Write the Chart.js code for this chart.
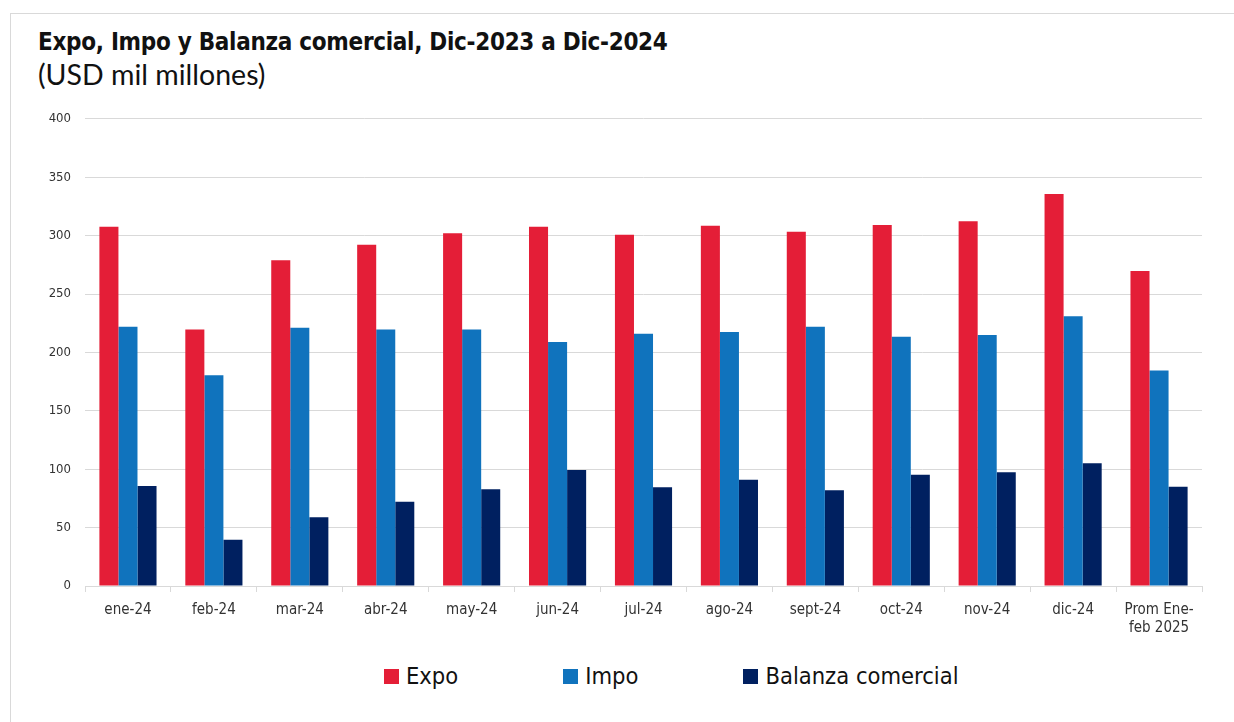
<!DOCTYPE html>
<html>
<head>
<meta charset="utf-8">
<script src="https://cdn.jsdelivr.net/npm/chart.js@4.4.1/dist/chart.umd.min.js"></script>
<style>
  html, body { margin: 0; padding: 0; background: #fff; overflow: hidden; }
  body { width: 1234px; height: 722px; position: relative; font-family: 'DejaVu Sans Condensed', sans-serif; }
  #frame { position: absolute; left: 10px; top: 13px; width: 1240px; height: 760px; border: 1px solid #d9d9d9; box-sizing: border-box; }
  #title { position: absolute; left: 38px; top: 28px; font-size: 24px; letter-spacing: -0.3px; font-weight: bold; color: #111; white-space: nowrap; }
  #subtitle { position: absolute; left: 38px; top: 57px; font-size: 28.5px; color: #111; white-space: nowrap; font-family: Lato, sans-serif; }
  #wrap { position: absolute; left: 0; top: 97px; width: 1234px; height: 563px; }
  #legend { position: absolute; left: 384px; top: 662px; display: flex; gap: 105px; font-size: 23.5px; color: #111; }
  #legend .item { display: flex; align-items: center; white-space: nowrap; }
  #legend .box { width: 15px; height: 15px; margin-right: 7px; }
</style>
</head>
<body>
<div id="frame"></div>
<div id="title">Expo, Impo y Balanza comercial, Dic-2023 a Dic-2024</div>
<div id="subtitle">(USD mil millones)</div>
<div id="wrap"><canvas id="chart"></canvas></div>
<div id="legend"></div>
<script>
// ===================== DATA =====================

const categories = ['ene-24', 'feb-24', 'mar-24', 'abr-24', 'may-24', 'jun-24', 'jul-24',
                    'ago-24', 'sept-24', 'oct-24', 'nov-24', 'dic-24', ['Prom Ene-', 'feb 2025']];
const expo    = [307.6, 219.7, 279.0, 292.2, 302.0, 307.6, 300.8, 308.5, 303.4, 309.0, 312.2, 335.6, 269.7];
const impo    = [222.0, 180.4, 221.0, 219.7, 219.5, 208.9, 216.0, 217.5, 222.0, 213.5, 214.9, 230.9, 184.6];
const balanza = [85.6, 39.7, 58.8, 72.2, 82.8, 99.3, 84.5, 91.0, 81.9, 95.3, 97.3, 105.0, 85.0];

const seriesNames  = ['Expo', 'Impo', 'Balanza comercial'];
const seriesColors = ['#e41e37', '#1073bd', '#002060'];

const FONT = "'DejaVu Sans Condensed', sans-serif";

// ===================== CHART =====================

const chart = new Chart(document.getElementById('chart'), {
    type: 'bar',
    data: {
        labels: categories,
        datasets: [expo, impo, balanza].map((values, i) => ({
            label: seriesNames[i],
            data: values,
            backgroundColor: seriesColors[i],
            borderWidth: 0,
            categoryPercentage: 0.665,
            barPercentage: 1.0
        }))
    },
    options: {
        responsive: true,
        maintainAspectRatio: false,
        animation: false,
        layout: { padding: { left: 0, right: 32, top: 10, bottom: 14 } },
        plugins: {
            legend: { display: false },
            tooltip: { enabled: false }
        },
        scales: {
            x: {
                grid: { offset: true, drawOnChartArea: false, color: '#d9d9d9', tickLength: 6 },
                border: { display: true, color: '#d9d9d9' },
                ticks: { color: '#333', font: { family: FONT, size: 15 }, padding: 9, maxRotation: 0, autoSkip: false }
            },
            y: {
                min: 0,
                max: 400,
                ticks: { stepSize: 50, color: '#333', font: { family: FONT, size: 13 }, padding: 14 },
                grid: { color: '#d9d9d9', drawTicks: false },
                border: { display: false },
                afterFit: (scale) => { scale.width = 85; }
            }
        }
    }
});

// ===================== LEGEND =====================

const legendEl = document.getElementById('legend');
seriesNames.forEach((name, i) => {
    const item = document.createElement('div');
    item.className = 'item';
    item.innerHTML = '<span class="box" style="background:' + seriesColors[i] + '"></span><span>' + name + '</span>';
    legendEl.appendChild(item);
});
</script>
</body>
</html>
